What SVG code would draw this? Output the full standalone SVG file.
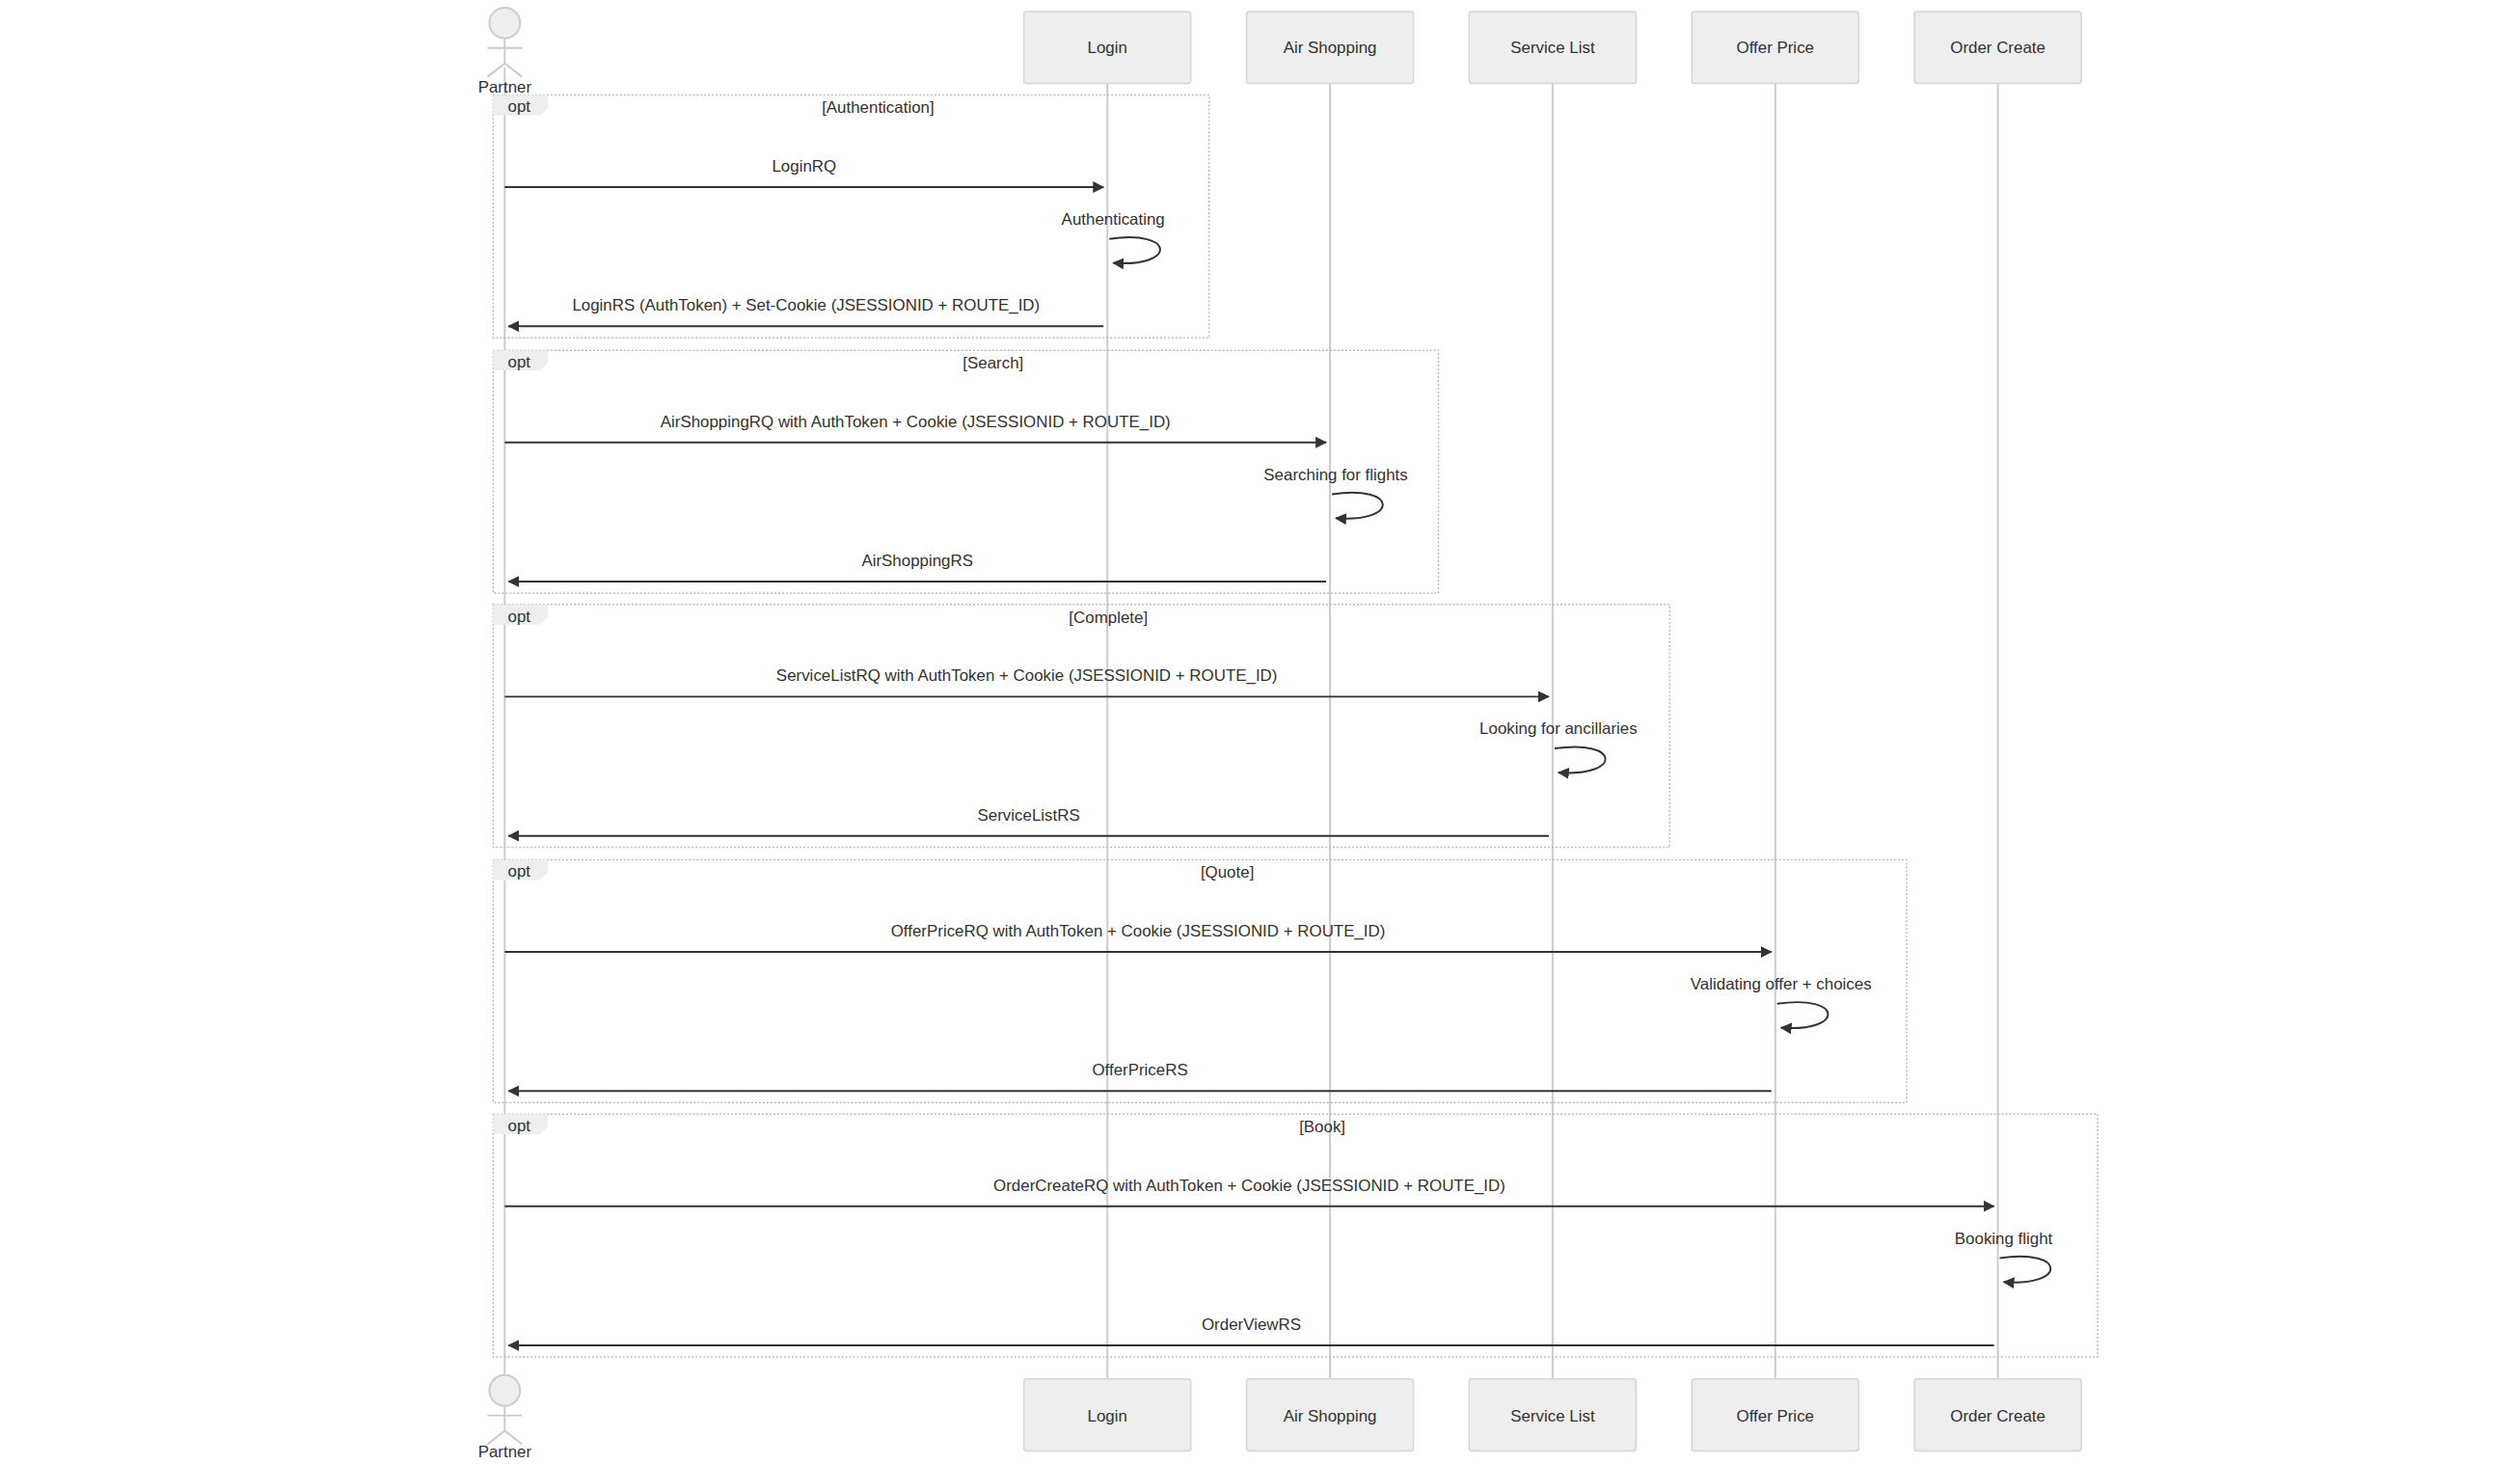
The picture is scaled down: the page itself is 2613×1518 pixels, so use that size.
<svg xmlns="http://www.w3.org/2000/svg" width="2613" height="1518" viewBox="0 0 2613 1518">
<style>
text{font-family:"Liberation Sans",Arial,sans-serif;font-size:17px;fill:#333;text-anchor:middle}
.box{fill:#eee;stroke:#d6d6d6;stroke-width:1.5}
.life{stroke:#ccc;stroke-width:2}
.frame{fill:none;stroke:#bbb;stroke-width:1.5;stroke-dasharray:2 2}
.tab{fill:#eee;stroke:none}
.msg{stroke:#333;stroke-width:2;fill:none}
.actor{fill:#eee;stroke:#ccc;stroke-width:2}
.limb{stroke:#ccc;stroke-width:2;fill:none}
</style>
<defs>
<marker id="ah" viewBox="0 0 12 12" refX="11" refY="6" markerWidth="12" markerHeight="12" markerUnits="userSpaceOnUse" orient="auto"><path d="M0,0 L12,6 L0,12 z" fill="#333"/></marker>
</defs>
<g transform="scale(0.995)">
<g id="lifelines">
<line class="life" x1="526" y1="70" x2="526" y2="1437"/>
<line class="life" x1="1154" y1="87" x2="1154" y2="1437"/>
<line class="life" x1="1386" y1="87" x2="1386" y2="1437"/>
<line class="life" x1="1618" y1="87" x2="1618" y2="1437"/>
<line class="life" x1="1850" y1="87" x2="1850" y2="1437"/>
<line class="life" x1="2082" y1="87" x2="2082" y2="1437"/>
</g>
<g id="partner-top"><circle class="actor" cx="526" cy="24" r="16"/><path class="limb" d="M526,40 V66 M508,50 H544 M526,66 L508,80 M526,66 L544,80"/><text x="526" y="96">Partner</text></g>
<g id="partner-bottom"><circle class="actor" cx="526" cy="1449" r="16"/><path class="limb" d="M526,1465 V1491 M508,1475 H544 M526,1491 L508,1505 M526,1491 L544,1505"/><text x="526" y="1519">Partner</text></g>
<g id="login-top"><rect class="box" x="1067" y="12" width="174" height="75" rx="3"/><text x="1154" y="55">Login</text></g>
<g id="air-top"><rect class="box" x="1299" y="12" width="174" height="75" rx="3"/><text x="1386" y="55">Air Shopping</text></g>
<g id="service-top"><rect class="box" x="1531" y="12" width="174" height="75" rx="3"/><text x="1618" y="55">Service List</text></g>
<g id="offer-top"><rect class="box" x="1763" y="12" width="174" height="75" rx="3"/><text x="1850" y="55">Offer Price</text></g>
<g id="order-top"><rect class="box" x="1995" y="12" width="174" height="75" rx="3"/><text x="2082" y="55">Order Create</text></g>
<g id="login-bottom"><rect class="box" x="1067" y="1437" width="174" height="75" rx="3"/><text x="1154" y="1481">Login</text></g>
<g id="air-bottom"><rect class="box" x="1299" y="1437" width="174" height="75" rx="3"/><text x="1386" y="1481">Air Shopping</text></g>
<g id="service-bottom"><rect class="box" x="1531" y="1437" width="174" height="75" rx="3"/><text x="1618" y="1481">Service List</text></g>
<g id="offer-bottom"><rect class="box" x="1763" y="1437" width="174" height="75" rx="3"/><text x="1850" y="1481">Offer Price</text></g>
<g id="order-bottom"><rect class="box" x="1995" y="1437" width="174" height="75" rx="3"/><text x="2082" y="1481">Order Create</text></g>

<g id="frames">
<rect class="frame" x="514" y="99" width="746" height="253"/>
<polygon class="tab" points="514,99 571,99 571,112 563,120 514,120"/><text x="541" y="117">opt</text><text x="915" y="118">[Authentication]</text>
<rect class="frame" x="514" y="365" width="985" height="253"/>
<polygon class="tab" points="514,365 571,365 571,378 563,386 514,386"/><text x="541" y="383">opt</text><text x="1035" y="384">[Search]</text>
<rect class="frame" x="514" y="630" width="1226" height="253"/>
<polygon class="tab" points="514,630 571,630 571,643 563,651 514,651"/><text x="541" y="648">opt</text><text x="1155" y="649">[Complete]</text>
<rect class="frame" x="514" y="896" width="1473" height="253"/>
<polygon class="tab" points="514,896 571,896 571,909 563,917 514,917"/><text x="541" y="914">opt</text><text x="1279" y="915">[Quote]</text>
<rect class="frame" x="514" y="1161" width="1672" height="253"/>
<polygon class="tab" points="514,1161 571,1161 571,1174 563,1182 514,1182"/><text x="541" y="1179">opt</text><text x="1378" y="1180">[Book]</text>
</g>

<g id="connectors">
<line class="msg" x1="526" y1="195" x2="1150" y2="195" marker-end="url(#ah)"/>
<text x="838" y="179">LoginRQ</text>
<text x="1160" y="234">Authenticating</text>
<path class="msg" d="M1156,249 C1226,239 1226,279 1160,274" marker-end="url(#ah)"/>
<line class="msg" x1="1150" y1="340" x2="530" y2="340" marker-end="url(#ah)"/>
<text x="840" y="324">LoginRS (AuthToken) + Set-Cookie (JSESSIONID + ROUTE_ID)</text>

<line class="msg" x1="526" y1="461" x2="1382" y2="461" marker-end="url(#ah)"/>
<text x="954" y="445">AirShoppingRQ with AuthToken + Cookie (JSESSIONID + ROUTE_ID)</text>
<text x="1392" y="500">Searching for flights</text>
<path class="msg" d="M1388,515 C1458,505 1458,545 1392,540" marker-end="url(#ah)"/>
<line class="msg" x1="1382" y1="606" x2="530" y2="606" marker-end="url(#ah)"/>
<text x="956" y="590">AirShoppingRS</text>

<line class="msg" x1="526" y1="726" x2="1614" y2="726" marker-end="url(#ah)"/>
<text x="1070" y="710">ServiceListRQ with AuthToken + Cookie (JSESSIONID + ROUTE_ID)</text>
<text x="1624" y="765">Looking for ancillaries</text>
<path class="msg" d="M1620,780 C1690,770 1690,810 1624,805" marker-end="url(#ah)"/>
<line class="msg" x1="1614" y1="871" x2="530" y2="871" marker-end="url(#ah)"/>
<text x="1072" y="855">ServiceListRS</text>

<line class="msg" x1="526" y1="992" x2="1846" y2="992" marker-end="url(#ah)"/>
<text x="1186" y="976">OfferPriceRQ with AuthToken + Cookie (JSESSIONID + ROUTE_ID)</text>
<text x="1856" y="1031">Validating offer + choices</text>
<path class="msg" d="M1852,1046 C1922,1036 1922,1076 1856,1071" marker-end="url(#ah)"/>
<line class="msg" x1="1846" y1="1137" x2="530" y2="1137" marker-end="url(#ah)"/>
<text x="1188" y="1121">OfferPriceRS</text>

<line class="msg" x1="526" y1="1257" x2="2078" y2="1257" marker-end="url(#ah)"/>
<text x="1302" y="1241">OrderCreateRQ with AuthToken + Cookie (JSESSIONID + ROUTE_ID)</text>
<text x="2088" y="1296">Booking flight</text>
<path class="msg" d="M2084,1311 C2154,1301 2154,1341 2088,1336" marker-end="url(#ah)"/>
<line class="msg" x1="2078" y1="1402" x2="530" y2="1402" marker-end="url(#ah)"/>
<text x="1304" y="1386">OrderViewRS</text>
</g>
</g>
</svg>
